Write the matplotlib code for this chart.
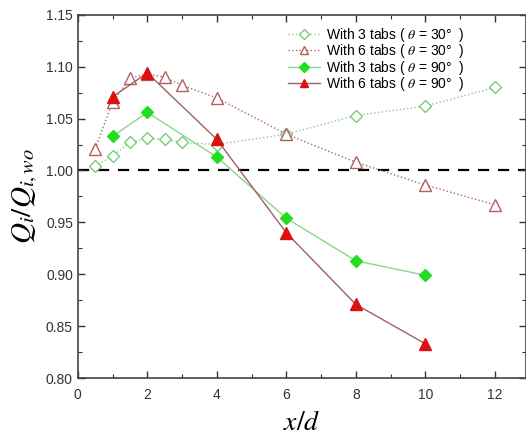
import numpy as np
import matplotlib
matplotlib.use("Agg")
from matplotlib import pyplot as plt
from matplotlib.ticker import MultipleLocator

plt.rcParams['font.family'] = ['Liberation Sans', 'DejaVu Sans']
plt.rcParams['mathtext.fontset'] = 'stix'

# data
x_3tabs_30 = [0.5, 1, 1.5, 2, 2.5, 3, 4, 6, 8, 10, 12]
y_3tabs_30 = [1.004, 1.014, 1.027, 1.031, 1.030, 1.027, 1.025, 1.035, 1.053, 1.062, 1.080]

x_6tabs_30 = [0.5, 1, 1.5, 2, 2.5, 3, 4, 6, 8, 10, 12]
y_6tabs_30 = [1.021, 1.066, 1.089, 1.093, 1.090, 1.082, 1.070, 1.035, 1.008, 0.986, 0.967]

x_3tabs_90 = [1, 2, 4, 6, 8, 10]
y_3tabs_90 = [1.033, 1.056, 1.013, 0.954, 0.913, 0.899]

x_6tabs_90 = [1, 2, 4, 6, 8, 10]
y_6tabs_90 = [1.071, 1.094, 1.030, 0.940, 0.871, 0.833]

labels = ['With 3 tabs ( $\\theta$ = 30°  )',
          'With 6 tabs ( $\\theta$ = 30°  )',
          'With 3 tabs ( $\\theta$ = 90°  )',
          'With 6 tabs ( $\\theta$ = 90°  )']

fig = plt.figure(figsize=(5.26, 4.37), dpi=100)
ax = fig.add_axes([0.148, 0.135, 0.852, 0.831])

ax.axhline(1.0, color='black', linestyle=(0, (5, 4)), linewidth=1.6, zorder=1)

ax.plot(x_3tabs_30, y_3tabs_30, linestyle=':', color='#88cc88', linewidth=1.0,
        marker='D', markersize=6, markerfacecolor='white',
        markeredgecolor='#77cc77', markeredgewidth=1.0, label=labels[0], zorder=2)
ax.plot(x_6tabs_30, y_6tabs_30, linestyle=':', color='#b06868', linewidth=1.0,
        marker='^', markersize=8, markerfacecolor='white',
        markeredgecolor='#b06060', markeredgewidth=1.0, label=labels[1], zorder=2)
ax.plot(x_3tabs_90, y_3tabs_90, linestyle='-', color='#88d888', linewidth=1.0,
        marker='D', markersize=6.5, markerfacecolor='#22dd22',
        markeredgecolor='#22dd22', label=labels[2], zorder=3)
ax.plot(x_6tabs_90, y_6tabs_90, linestyle='-', color='#a06060', linewidth=1.0,
        marker='^', markersize=8, markerfacecolor='#dd1111',
        markeredgecolor='#dd1111', label=labels[3], zorder=3)

ax.set_xlim(0, 12.9)
ax.set_ylim(0.80, 1.15)
ax.xaxis.set_major_locator(MultipleLocator(2))
ax.xaxis.set_minor_locator(MultipleLocator(1))
ax.yaxis.set_major_locator(MultipleLocator(0.05))
ax.yaxis.set_minor_locator(MultipleLocator(0.025))
ax.yaxis.set_major_formatter(matplotlib.ticker.FormatStrFormatter('%.2f'))
ax.tick_params(which='both', direction='in', top=True, right=True,
               labelsize=10, labelcolor='#333333', color='#333333')
ax.tick_params(which='major', length=5, width=1)
ax.tick_params(which='minor', length=3, width=0.8)
ax.tick_params(axis='x', pad=7)
for s in ax.spines.values():
    s.set_linewidth(1.2)
    s.set_color('#444444')

ax.set_xlabel('$x/d$', fontsize=20, labelpad=6)
ax.set_ylabel('$Q_i/Q_{i,wo}$', fontsize=21, labelpad=4)

ax.legend(loc='upper left', bbox_to_anchor=(0.445, 1.0), frameon=False,
          fontsize=10, handlelength=2.3, handletextpad=0.4, labelspacing=-0.12,
          markerscale=0.8, borderaxespad=0.4)

fig.savefig('out.png', dpi=100)
